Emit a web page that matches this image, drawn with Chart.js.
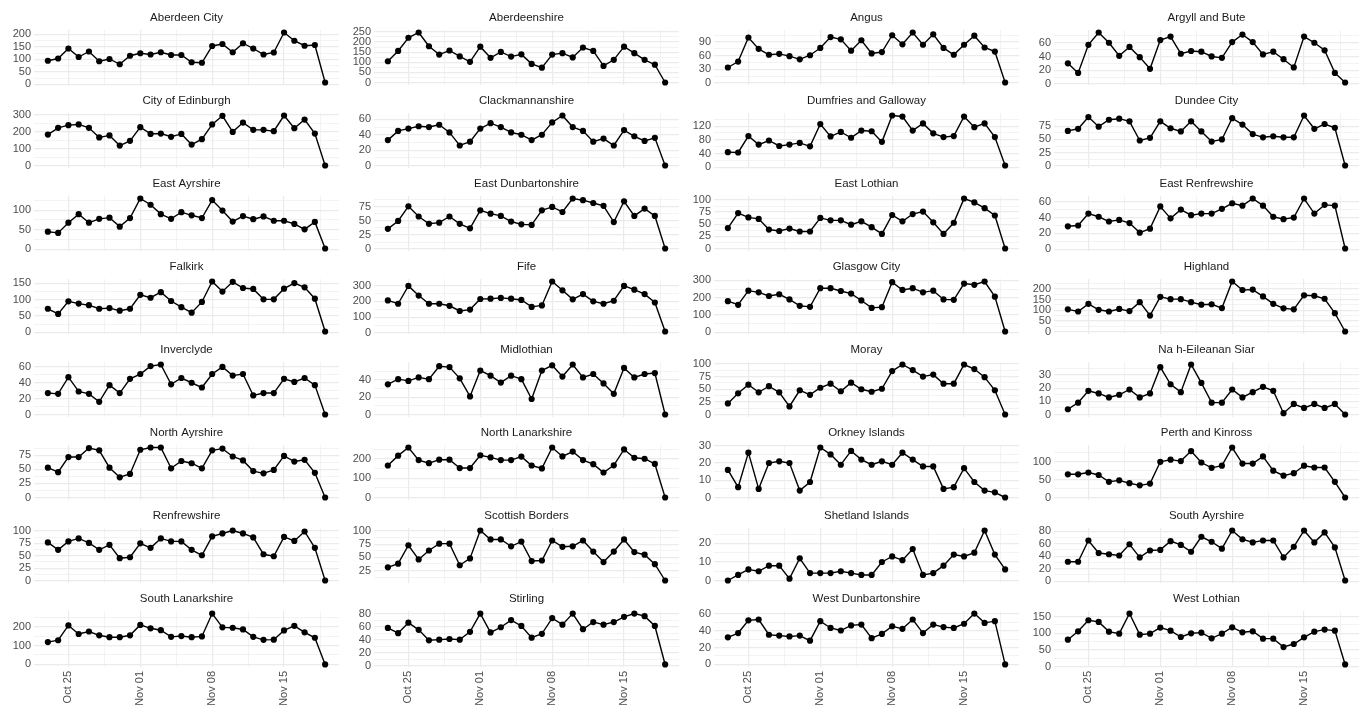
<!DOCTYPE html>
<html>
<head>
<meta charset="utf-8">
<title>Daily cases by council area</title>
<script src="https://cdn.jsdelivr.net/npm/chart.js"></script>
<style>
  html, body { margin: 0; padding: 0; background: #ffffff; }
  body { position: relative; width: 1366px; height: 715px; overflow: hidden; }
  .panel { position: absolute; }
</style>
</head>
<body>
<script>
// days shown on the x axis
const dates = ['Oct 23','Oct 24','Oct 25','Oct 26','Oct 27','Oct 28','Oct 29','Oct 30','Oct 31',
  'Nov 01','Nov 02','Nov 03','Nov 04','Nov 05','Nov 06','Nov 07','Nov 08','Nov 09','Nov 10',
  'Nov 11','Nov 12','Nov 13','Nov 14','Nov 15','Nov 16','Nov 17','Nov 18','Nov 19'];
const xTickLabels = ['Oct 25', 'Nov 01', 'Nov 08', 'Nov 15'];

const regions = ['Aberdeen City','Aberdeenshire','Angus','Argyll and Bute',
  'City of Edinburgh','Clackmannanshire','Dumfries and Galloway','Dundee City',
  'East Ayrshire','East Dunbartonshire','East Lothian','East Renfrewshire',
  'Falkirk','Fife','Glasgow City','Highland',
  'Inverclyde','Midlothian','Moray','Na h-Eileanan Siar',
  'North Ayrshire','North Lanarkshire','Orkney Islands','Perth and Kinross',
  'Renfrewshire','Scottish Borders','Shetland Islands','South Ayrshire',
  'South Lanarkshire','Stirling','West Dunbartonshire','West Lothian'];

const aberdeenCity = [94,103,143,109,131,92,101,80,114,124,119,128,117,117,88,86,153,161,128,164,143,119,127,207,174,154,157,7];
const aberdeenshire = [105,156,221,247,179,138,158,129,102,177,122,151,128,139,92,73,138,145,124,173,156,82,112,177,145,112,88,0];
const angus = [34,47,100,75,62,64,59,52,61,77,101,96,71,94,65,68,105,85,111,84,107,77,62,84,104,78,69,1];
const argyllAndBute = [30,16,57,75,60,41,54,39,22,64,69,44,48,47,40,38,61,72,61,43,47,36,24,69,60,49,16,2];
const cityOfEdinburgh = [183,223,239,243,223,166,178,118,146,227,187,189,170,187,124,156,243,294,199,254,211,211,203,296,221,272,189,0];
const clackmannanshire = [33,45,48,51,50,53,43,26,31,48,55,50,43,40,33,40,56,65,50,45,31,35,26,46,38,32,36,0];
const dumfriesAndGalloway = [44,43,91,66,78,62,66,71,61,126,90,103,86,107,105,74,151,148,107,128,99,88,91,148,117,128,88,5];
const dundeeCity = [66,70,92,74,87,89,84,48,53,84,71,65,84,65,46,50,90,78,60,54,56,54,54,95,70,79,72,1];
const eastAyrshire = [45,42,68,90,68,78,81,58,80,130,114,90,78,95,87,80,126,99,71,85,77,84,73,73,65,51,70,2];
const eastDunbartonshire = [36,50,76,58,45,47,58,45,37,69,63,59,49,44,43,69,75,66,90,87,82,77,48,85,59,72,59,1];
const eastLothian = [42,73,64,61,39,36,41,35,35,63,58,58,49,56,44,30,69,56,71,76,54,30,53,103,95,83,68,0];
const eastRenfrewshire = [29,30,45,41,35,37,33,21,26,54,39,50,43,45,45,51,58,55,64,55,41,38,40,64,45,56,55,1];
const falkirk = [72,56,95,88,83,72,74,66,72,115,106,123,96,77,60,93,156,125,155,136,133,101,101,134,151,138,103,2];
const fife = [206,185,298,237,185,185,172,139,148,215,217,222,217,209,165,174,326,270,213,246,200,185,204,298,274,246,193,9];
const glasgowCity = [180,159,241,231,210,220,190,153,147,255,255,239,224,184,141,145,290,245,255,231,241,190,188,282,275,294,206,4];
const highland = [104,94,130,102,94,106,96,138,75,163,152,152,138,126,128,110,235,195,197,165,130,109,104,170,168,154,86,0];
const inverclyde = [27,26,47,29,26,16,37,27,45,51,61,63,38,46,40,34,51,60,49,51,24,27,27,45,41,46,37,0];
const midlothian = [35,41,39,43,41,56,55,42,21,51,45,37,45,41,18,51,57,44,58,43,47,36,24,54,43,47,48,0];
const moray = [22,42,59,44,56,44,16,48,39,53,61,46,63,50,45,51,86,99,88,75,79,61,61,99,90,74,48,0];
const naHEileananSiar = [4,9,18,16,13,15,19,13,16,36,23,17,38,24,9,9,19,13,17,21,18,1,8,5,8,5,8,0];
const northAyrshire = [53,45,72,72,88,84,53,36,42,85,89,89,52,65,61,52,84,87,73,66,47,43,49,74,64,67,44,0];
const northLanarkshire = [165,216,258,193,177,195,195,152,152,218,207,193,193,211,165,150,258,212,237,193,172,129,166,248,205,200,173,0];
const orkneyIslands = [16,6,26,5,20,21,20,4,9,29,25,19,27,22,19,21,19,26,22,18,18,5,6,17,9,4,3,0];
const perthAndKinross = [65,65,70,63,44,48,40,34,39,100,106,102,130,98,83,89,140,95,95,115,75,61,68,89,84,84,44,0];
const renfrewshire = [77,62,79,85,76,62,72,45,47,75,66,85,79,79,62,51,89,95,101,95,87,53,49,88,80,99,66,0];
const scottishBorders = [31,38,73,46,63,76,76,35,48,101,84,84,71,80,43,44,82,70,71,82,61,41,61,84,60,55,37,6];
const shetlandIslands = [0,3,6,5,8,8,1,12,4,4,4,5,4,3,3,10,13,11,17,3,4,8,14,13,15,27,14,6];
const southAyrshire = [31,31,65,45,43,41,59,38,49,50,64,58,47,71,63,52,81,67,62,65,65,38,55,81,62,78,54,1];
const southLanarkshire = [118,128,206,161,174,154,144,144,154,209,191,181,146,150,144,148,269,196,194,185,146,130,131,180,204,170,141,0];
const stirling = [58,50,66,55,39,40,41,40,52,80,51,59,70,61,43,49,73,63,80,56,67,63,67,75,80,76,61,2];
const westDunbartonshire = [32,37,52,53,35,34,33,34,28,51,43,40,46,47,31,36,45,42,53,37,47,44,43,48,60,49,51,0];
const westLothian = [81,106,139,134,105,99,159,96,99,117,108,89,100,102,85,99,118,103,106,84,84,59,68,88,105,111,108,7];

const series = [aberdeenCity, aberdeenshire, angus, argyllAndBute,
  cityOfEdinburgh, clackmannanshire, dumfriesAndGalloway, dundeeCity,
  eastAyrshire, eastDunbartonshire, eastLothian, eastRenfrewshire,
  falkirk, fife, glasgowCity, highland,
  inverclyde, midlothian, moray, naHEileananSiar,
  northAyrshire, northLanarkshire, orkneyIslands, perthAndKinross,
  renfrewshire, scottishBorders, shetlandIslands, southAyrshire,
  southLanarkshire, stirling, westDunbartonshire, westLothian];

// y tick labels for each panel (free y scales)
const yTicks = [
  [0,50,100,150,200], [0,50,100,150,200,250], [0,30,60,90], [0,20,40,60],
  [0,100,200,300], [0,20,40,60], [0,40,80,120,160], [0,25,50,75,100],
  [0,50,100], [0,25,50,75], [0,25,50,75,100], [0,20,40,60],
  [0,50,100,150], [0,100,200,300], [0,100,200,300], [0,50,100,150,200],
  [0,20,40,60], [0,20,40], [0,25,50,75,100], [0,10,20,30],
  [0,25,50,75], [0,100,200], [0,10,20,30], [0,50,100],
  [0,25,50,75,100], [25,50,75,100], [0,10,20], [0,20,40,60,80],
  [0,100,200], [0,20,40,60,80], [0,20,40,60], [0,50,100,150]
];

Chart.defaults.font.family = '"Liberation Sans", Arial, sans-serif';
Chart.defaults.font.size = 11;

const colLeft = [34, 374, 714, 1054];
const panelW = 306, panelH = 55, axisW = 34, titleH = 24;
const gridCol = '#ebebeb';

// major ticks plus ggplot-style minor breaks half way between them
function withMinors(majors, lo, hi) {
  const step = majors[1] - majors[0];
  const out = majors.filter(v => v >= lo && v <= hi).map(v => ({ value: v }));
  for (let k = -1; k < majors.length; k++) {
    const m = majors[0] + step * k + step / 2;
    if (m >= lo && m <= hi) out.push({ value: m, minor: true });
  }
  return out.sort((a, b) => a.value - b.value);
}

const xMajors = xTickLabels.map(l => dates.indexOf(l));
const xMin = -0.05 * (dates.length - 1), xMax = (dates.length - 1) * 1.05;

regions.forEach((name, i) => {
  const row = Math.floor(i / 4), col = i % 4;
  const bottom = row === 7;
  const vals = series[i];
  const lo = Math.min(...vals), hi = Math.max(...vals);
  const ymin = lo - (hi - lo) * 0.05, ymax = hi + (hi - lo) * 0.05;

  const box = document.createElement('div');
  box.className = 'panel';
  box.style.left = (colLeft[col] - axisW) + 'px';
  box.style.top = (30 + 83 * row - titleH) + 'px';
  box.style.width = (axisW + panelW + 3) + 'px';
  box.style.height = (titleH + panelH + (bottom ? 44 : 4)) + 'px';
  const cv = document.createElement('canvas');
  box.appendChild(cv);
  document.body.appendChild(box);

  new Chart(cv, {
    type: 'line',
    data: {
      datasets: [{
        data: dates.map((d, k) => ({ x: k, y: vals[k] })),
        borderColor: '#000000',
        borderWidth: 1.4,
        pointRadius: 3.1,
        pointBackgroundColor: '#000000',
        pointBorderWidth: 0,
        tension: 0,
        clip: false
      }]
    },
    options: {
      responsive: true,
      maintainAspectRatio: false,
      animation: false,
      events: [],
      layout: { padding: { left: 0, right: 3, top: 0, bottom: bottom ? 0 : 4 } },
      plugins: {
        legend: { display: false },
        tooltip: { enabled: false },
        title: {
          display: true,
          text: name,
          fullSize: false,
          color: '#1a1a1a',
          font: { size: 11.5, weight: 'normal' },
          padding: { top: 5, bottom: 5.2 }
        }
      },
      scales: {
        x: {
          type: 'linear',
          min: xMin,
          max: xMax,
          bounds: 'data',
          afterBuildTicks: s => {
            const t = xMajors.map(v => ({ value: v }));
            for (let k = 0; k < xMajors.length; k++) t.push({ value: xMajors[k] + 3.5, minor: true });
            s.ticks = t.filter(o => o.value >= xMin && o.value <= xMax).sort((a, b) => a.value - b.value);
          },
          afterFit: s => {
            s.height = bottom ? 43 : 0;
            s.paddingLeft = 0; s.paddingRight = 0;
          },
          border: { display: false },
          grid: {
            color: gridCol,
            drawTicks: false,
            lineWidth: c => (c.tick && c.tick.minor) ? 0.6 : 1.2
          },
          ticks: {
            display: bottom,
            autoSkip: false,
            minRotation: 90,
            maxRotation: 90,
            padding: 4,
            color: '#4d4d4d',
            font: { size: 11 },
            callback: (v, k, arr) => arr[k].minor ? '' : dates[v]
          }
        },
        y: {
          type: 'linear',
          min: ymin,
          max: ymax,
          bounds: 'data',
          afterBuildTicks: s => { s.ticks = withMinors(yTicks[i], ymin, ymax); },
          afterFit: s => {
            s.width = axisW;
            s.paddingTop = 0; s.paddingBottom = 0;
          },
          border: { display: false },
          grid: {
            color: gridCol,
            drawTicks: false,
            lineWidth: c => (c.tick && c.tick.minor) ? 0.6 : 1.2
          },
          ticks: {
            autoSkip: false,
            padding: 3,
            color: '#4d4d4d',
            font: { size: 11 },
            callback: (v, k, arr) => arr[k].minor ? '' : String(v)
          }
        }
      }
    }
  });
});
</script>
</body>
</html>
